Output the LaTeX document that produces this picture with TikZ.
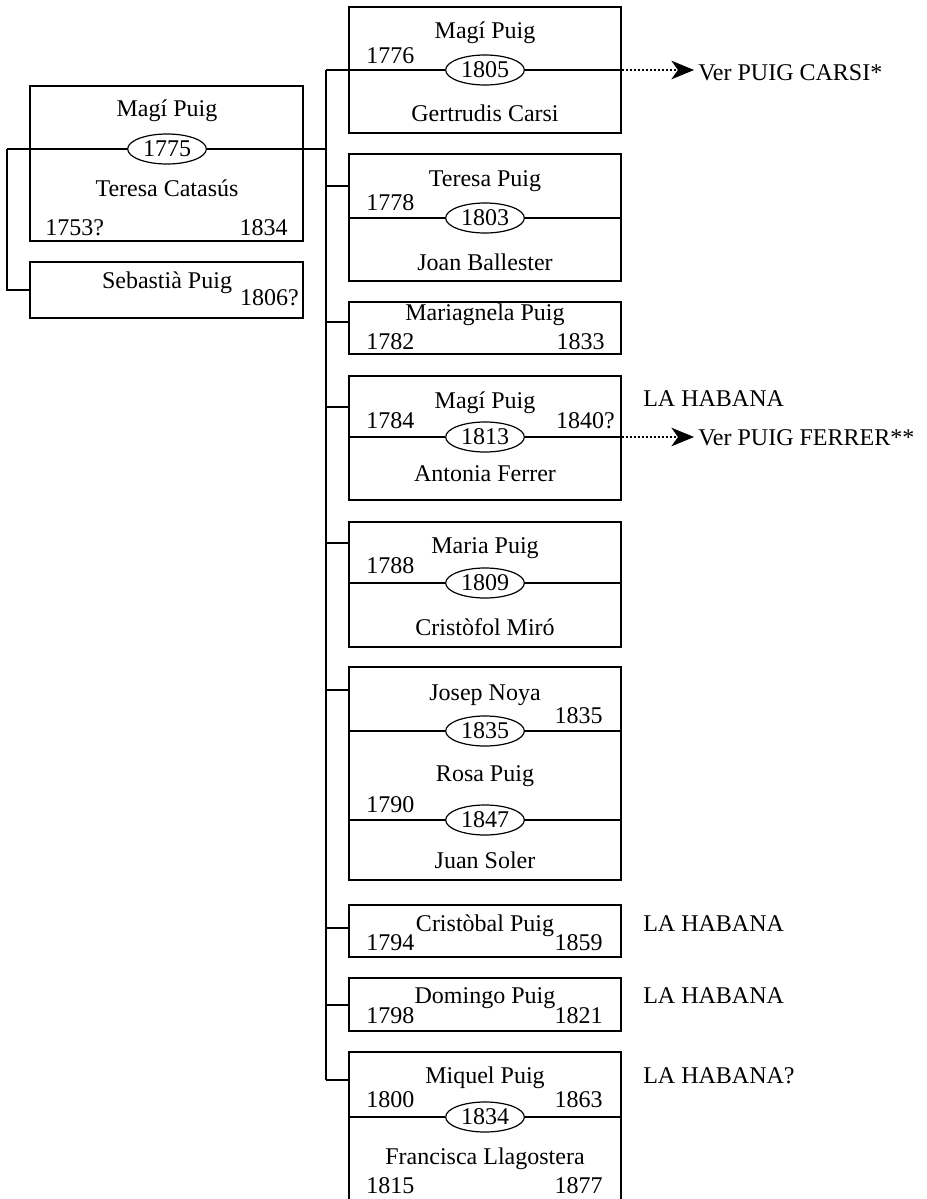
\documentclass[tikz,border=0pt]{standalone}
\usepackage{fontspec}
\setmainfont{Liberation Serif}
\usetikzlibrary{fit,shapes.geometric,arrows.meta}
\begin{document}
\begin{tikzpicture}[x=0.75pt,y=-0.75pt,
  font=\fontsize{18pt}{20pt}\selectfont,
  boxst/.style={draw, line width=1.3pt, inner sep=0pt},
  lbl/.style={inner sep=0pt, anchor=base},
  lft/.style={inner sep=0pt, anchor=base west},
  rgt/.style={inner sep=0pt, anchor=base east},
  ell/.style={draw, ellipse, line width=0.9pt, inner sep=0pt, text depth=0pt,
              minimum width=59pt, minimum height=22.5pt},
  ln/.style={line width=0.8pt},
  trunkline/.style={line width=1.1pt},
  dotarrow/.style={line width=0.8pt, dash pattern=on 1.4pt off 1.6pt,
                   -{Stealth[length=17pt,width=14pt,inset=5pt]}}
]
\useasboundingbox (0,0) rectangle (927,1199);

% ---------- parents ----------
\node[boxst, fit={(30,86) (303,241)}] (A) {};
\node[lbl] (tA1) at (167,116) {Magí Puig};
\node[ell] (eA) at (167,149) {1775};
\node[lbl] (tA2) at (167,196) {Teresa Catasús};
\node[lft] (dA1) at (45,235) {1753?};
\node[rgt] (dA2) at (288,235) {1834};

\node[boxst, fit={(30,262) (303,318)}] (B) {};
\node[lbl] (tB1) at (167,288) {Sebastià Puig};
\node[rgt] (dB1) at (299,305) {1806?};

\coordinate (lA) at (7,149);
\coordinate (j0) at (326,149);
\draw[ln] (lA) -- (eA.west);
\draw[ln] (eA.east) -- (j0);
\draw[ln] (lA) |- (B.west);

% ---------- trunk ----------
\coordinate (ttop) at (326,70);
\coordinate (tbot) at (326,1080);
\draw[trunkline] (ttop) -- (tbot);

% ---------- child 1 ----------
\node[boxst, fit={(349,7) (621,133)}] (C1) {};
\node[lbl] (t1a) at (485,38) {Magí Puig};
\node[lft] (d1a) at (366,63) {1776};
\node[ell] (e1) at (485,70) {1805};
\node[lbl] (t1b) at (485,121) {Gertrudis Carsi};
\draw[ln] (ttop) -- (e1.west);
\draw[ln] (e1.east) -- (e1 -| C1.east);
\coordinate (ar1) at (694,70);
\draw[dotarrow] (e1 -| C1.east) -- (ar1);
\node[lft] (v1) at (698,80) {Ver PUIG CARSI*};

% ---------- child 2 ----------
\node[boxst, fit={(349,154) (621,281)}] (C2) {};
\coordinate (j2) at (326,186);
\draw[ln] (j2) -- (j2 -| C2.west);
\node[lbl] (t2a) at (485,186) {Teresa Puig};
\node[lft] (d2a) at (366,210) {1778};
\node[ell] (e2) at (485,218) {1803};
\node[lbl] (t2b) at (485,270) {Joan Ballester};
\draw[ln] (e2 -| C2.west) -- (e2.west);
\draw[ln] (e2.east) -- (e2 -| C2.east);

% ---------- child 3 ----------
\node[boxst, fit={(349,302) (621,354)}] (C3) {};
\coordinate (j3) at (326,322);
\draw[ln] (j3) -- (j3 -| C3.west);
\node[lbl] (t3a) at (485,320) {Mariagnela Puig};
\node[lft] (d3a) at (366,349) {1782};
\node[rgt] (d3b) at (605,349) {1833};

% ---------- child 4 ----------
\node[boxst, fit={(349,376) (621,500)}] (C4) {};
\coordinate (j4) at (326,407);
\draw[ln] (j4) -- (j4 -| C4.west);
\node[lbl] (t4a) at (485,408) {Magí Puig};
\node[lft] (d4a) at (366,428) {1784};
\node[rgt] (d4b) at (615,428) {1840?};
\node[ell] (e4) at (485,437) {1813};
\node[lbl] (t4b) at (485,481) {Antonia Ferrer};
\draw[ln] (e4 -| C4.west) -- (e4.west);
\draw[ln] (e4.east) -- (e4 -| C4.east);
\coordinate (ar4) at (694,437);
\draw[dotarrow] (e4 -| C4.east) -- (ar4);
\node[lft] (v4) at (698,445) {Ver PUIG FERRER**};
\node[lft] (h4) at (643,406) {LA HABANA};

% ---------- child 5 ----------
\node[boxst, fit={(349,522) (621,647)}] (C5) {};
\coordinate (j5) at (326,543);
\draw[ln] (j5) -- (j5 -| C5.west);
\node[lbl] (t5a) at (485,553) {Maria Puig};
\node[lft] (d5a) at (366,573) {1788};
\node[ell] (e5) at (485,583) {1809};
\node[lbl] (t5b) at (485,635) {Cristòfol Miró};
\draw[ln] (e5 -| C5.west) -- (e5.west);
\draw[ln] (e5.east) -- (e5 -| C5.east);

% ---------- child 6 ----------
\node[boxst, fit={(349,667) (621,880)}] (C6) {};
\coordinate (j6) at (326,690);
\draw[ln] (j6) -- (j6 -| C6.west);
\node[lbl] (t6a) at (485,700) {Josep Noya};
\node[rgt] (d6a) at (603,723) {1835};
\node[ell] (e6a) at (485,731) {1835};
\node[lbl] (t6b) at (485,781) {Rosa Puig};
\node[lft] (d6b) at (366,812) {1790};
\node[ell] (e6b) at (485,820) {1847};
\node[lbl] (t6c) at (485,868) {Juan Soler};
\draw[ln] (e6a -| C6.west) -- (e6a.west);
\draw[ln] (e6a.east) -- (e6a -| C6.east);
\draw[ln] (e6b -| C6.west) -- (e6b.west);
\draw[ln] (e6b.east) -- (e6b -| C6.east);

% ---------- child 7 ----------
\node[boxst, fit={(349,905) (621,957)}] (C7) {};
\coordinate (j7) at (326,928);
\draw[ln] (j7) -- (j7 -| C7.west);
\node[lbl] (t7a) at (485,931) {Cristòbal Puig};
\node[lft] (d7a) at (366,950) {1794};
\node[rgt] (d7b) at (603,950) {1859};
\node[lft] (h7) at (643,931) {LA HABANA};

% ---------- child 8 ----------
\node[boxst, fit={(349,978) (621,1031)}] (C8) {};
\coordinate (j8) at (326,1005);
\draw[ln] (j8) -- (j8 -| C8.west);
\node[lbl] (t8a) at (485,1003) {Domingo Puig};
\node[lft] (d8a) at (366,1023) {1798};
\node[rgt] (d8b) at (603,1023) {1821};
\node[lft] (h8) at (643,1003) {LA HABANA};

% ---------- child 9 ----------
\node[boxst, fit={(349,1052) (621,1215)}] (C9) {};
\draw[ln] (tbot) -- (tbot -| C9.west);
\node[lbl] (t9a) at (485,1083) {Miquel Puig};
\node[lft] (d9a) at (366,1107) {1800};
\node[rgt] (d9b) at (603,1107) {1863};
\node[ell] (e9) at (485,1117) {1834};
\node[lbl] (t9b) at (485,1164) {Francisca Llagostera};
\node[lft] (d9c) at (366,1193) {1815};
\node[rgt] (d9d) at (603,1193) {1877};
\draw[ln] (e9 -| C9.west) -- (e9.west);
\draw[ln] (e9.east) -- (e9 -| C9.east);
\node[lft] (h9) at (643,1083) {LA HABANA?};
\end{tikzpicture}
\end{document}
